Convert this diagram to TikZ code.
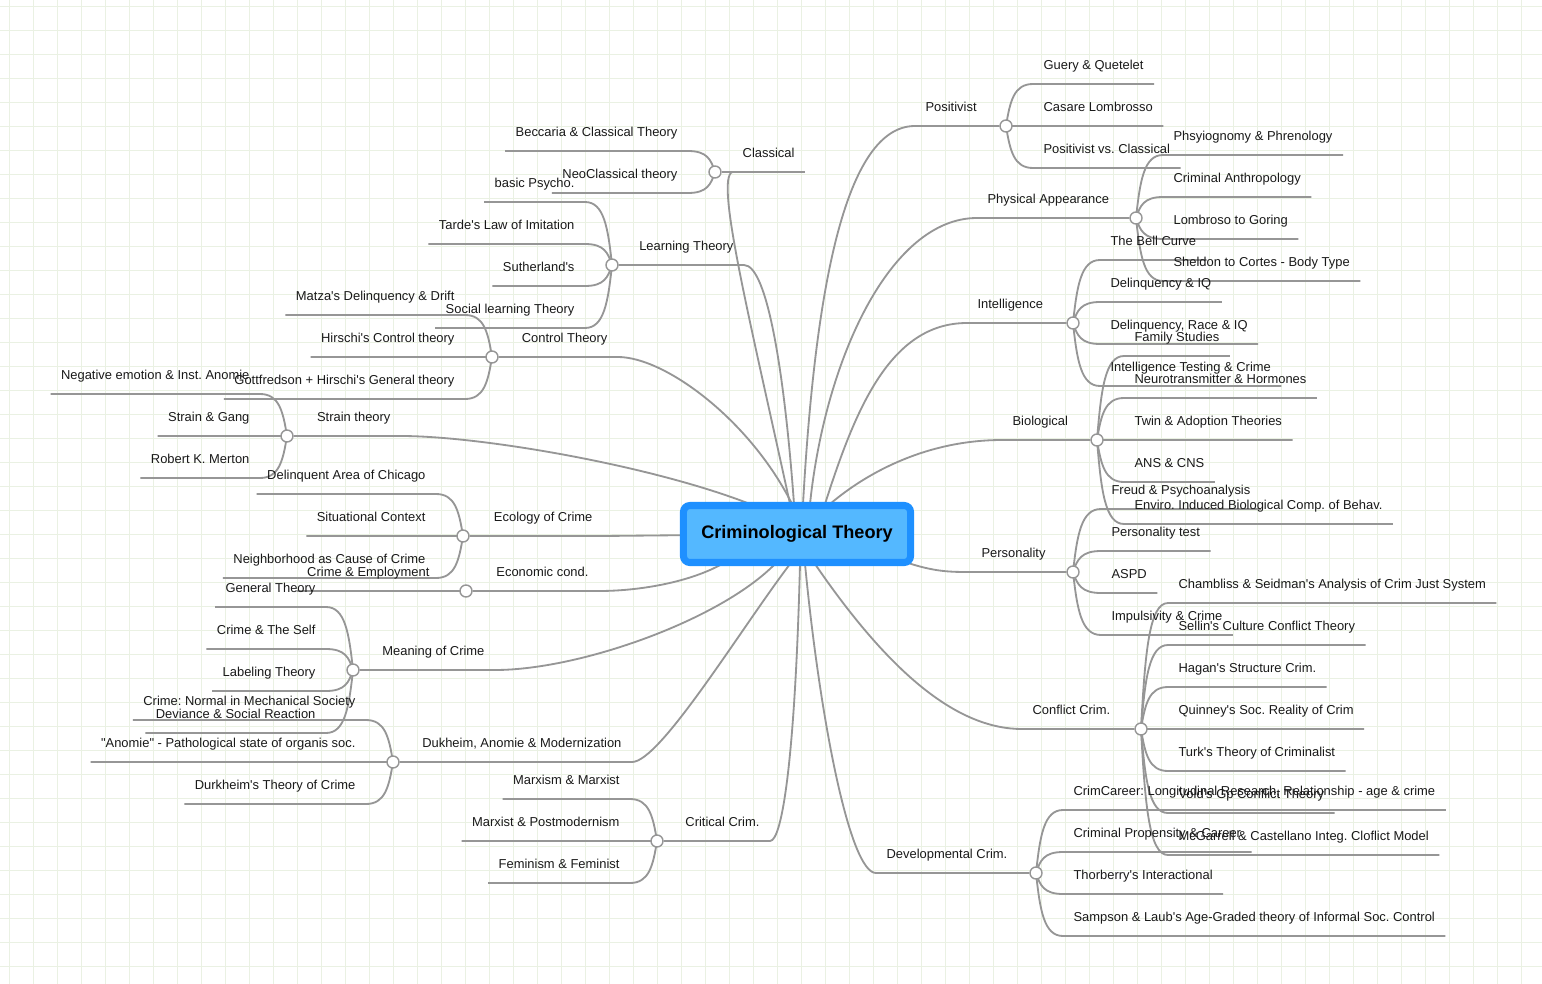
\documentclass[tikz,border=0pt]{standalone}
\usepackage{fontspec}
\setmainfont{Liberation Sans}[Ligatures=TeXOff]
\frenchspacing
\usetikzlibrary{calc,backgrounds}
\definecolor{gridgreen}{RGB}{234,241,227}
\definecolor{limbgray}{RGB}{150,150,150}
\definecolor{rootblue}{RGB}{30,144,255}
\definecolor{rootfill}{RGB}{84,184,255}
\definecolor{inkgray}{RGB}{25,25,25}
\tikzset{
  gridline/.style={draw=gridgreen, line width=0.7pt},
  limb/.style={draw=limbgray, line width=1.3pt},
  forkto/.style={to path={.. controls ($(\tikztostart)!.6!($(\tikztostart|-\tikztotarget)!.25!(\tikztotarget)$)$) and ($(\tikztostart|-\tikztotarget)!.3!(\tikztotarget)$) .. (\tikztotarget)}},
  hub/.style={circle, draw=limbgray, fill=white, line width=1pt, minimum size=0.3cm, inner sep=0pt},
  leafR/.style={anchor=south west, inner xsep=7.3pt, inner ysep=9.9pt, text depth=0pt, text=inkgray, font=\fontsize{9.2}{11}\selectfont},
  leafL/.style={leafR, anchor=south east},
  topicR/.style={leafR},
  topicL/.style={leafL},
  root/.style={rounded corners=4.6pt, fill=rootfill, draw=rootblue, line width=5pt, minimum width=5.675cm, minimum height=1.425cm, text=black, font=\bfseries\fontsize{12.9}{15}\selectfont},
}
\begin{document}
\begin{tikzpicture}[x=0.025cm, y=-0.025cm]
\useasboundingbox (0,0) rectangle (1542,984);
\node[root] (root) at (797,534) {Criminological Theory};

% right side
\node[topicR] (posT) at (915,126) {Positivist};
\node[hub] (pos) at (1006,126) {};
\node[leafR] (gq) at (1033,84) {Guery \& Quetelet};
\node[leafR] (cl) at (1033,126) {Casare Lombrosso};
\node[leafR] (pvc) at (1033,168) {Positivist vs. Classical};

\node[topicR] (phyT) at (977,218) {Physical Appearance};
\node[hub] (phy) at (1136,218) {};
\node[leafR] (phr) at (1163,155) {Phsyiognomy \& Phrenology};
\node[leafR] (cra) at (1163,197) {Criminal Anthropology};
\node[leafR] (lg) at (1163,239) {Lombroso to Goring};
\node[leafR] (sct) at (1163,281) {Sheldon to Cortes - Body Type};

\node[topicR] (itlT) at (967,323) {Intelligence};
\node[hub] (itl) at (1073,323) {};
\node[leafR] (bell) at (1100,260) {The Bell Curve};
\node[leafR] (diq) at (1100,302) {Delinquency \& IQ};
\node[leafR] (driq) at (1100,344) {Delinquency, Race \& IQ};
\node[leafR] (itc) at (1100,386) {Intelligence Testing \& Crime};

\node[topicR] (bioT) at (1002,440) {Biological};
\node[hub] (bio) at (1097,440) {};
\node[leafR] (fam) at (1124,356) {Family Studies};
\node[leafR] (neu) at (1124,398) {Neurotransmitter \& Hormones};
\node[leafR] (twin) at (1124,440) {Twin \& Adoption Theories};
\node[leafR] (ans) at (1124,482) {ANS \& CNS};
\node[leafR] (env) at (1124,524) {Enviro. Induced Biological Comp. of Behav.};

\node[topicR] (perT) at (971,572) {Personality};
\node[hub] (per) at (1073,572) {};
\node[leafR] (fre) at (1101,509) {Freud \& Psychoanalysis};
\node[leafR] (pt) at (1101,551) {Personality test};
\node[leafR] (aspd) at (1101,593) {ASPD};
\node[leafR] (imp) at (1101,635) {Impulsivity \& Crime};

\node[topicR] (cflT) at (1022,729) {Conflict Crim.};
\node[hub] (cfl) at (1141,729) {};
\node[leafR] (chs) at (1168,603) {Chambliss \& Seidman's Analysis of Crim Just System};
\node[leafR] (sel) at (1168,645) {Sellin's Culture Conflict Theory};
\node[leafR] (hag) at (1168,687) {Hagan's Structure Crim.};
\node[leafR] (qui) at (1168,729) {Quinney's Soc. Reality of Crim};
\node[leafR] (turk) at (1168,771) {Turk's Theory of Criminalist};
\node[leafR] (vold) at (1168,813) {Vold's Gp Conflict Theory};
\node[leafR] (mcg) at (1168,855) {McGarrell \& Castellano Integ. Cloflict Model};

\node[topicR] (devT) at (876,873) {Developmental Crim.};
\node[hub] (dev) at (1036,873) {};
\node[leafR] (ccl) at (1063,810) {CrimCareer: Longitudinal Research, Relationship - age \& crime};
\node[leafR] (cpc) at (1063,852) {Criminal Propensity \& Career};
\node[leafR] (thi) at (1063,894) {Thorberry's Interactional};
\node[leafR] (slg) at (1063,936) {Sampson \& Laub's Age-Graded theory of Informal Soc. Control};

% left side
\node[topicL] (clsT) at (805,172) {Classical};
\node[hub] (cls) at (715,172) {};
\node[leafL] (bec) at (688,151) {Beccaria \& Classical Theory};
\node[leafL] (neo) at (688,193) {NeoClassical theory};

\node[topicL] (lrnT) at (744,265) {Learning Theory};
\node[hub] (lrn) at (612,265) {};
\node[leafL] (bps) at (585,202) {basic Psycho.};
\node[leafL] (trd) at (585,244) {Tarde's Law of Imitation};
\node[leafL] (suth) at (585,286) {Sutherland's};
\node[leafL] (slt) at (585,328) {Social learning Theory};

\node[topicL] (ctlT) at (618,357) {Control Theory};
\node[hub] (ctl) at (492,357) {};
\node[leafL] (mat) at (465,315) {Matza's Delinquency \& Drift};
\node[leafL] (hcon) at (465,357) {Hirschi's Control theory};
\node[leafL] (gott) at (465,399) {Gottfredson + Hirschi's General theory};

\node[topicL] (strT) at (401,436) {Strain theory};
\node[hub] (str) at (287,436) {};
\node[leafL] (neg) at (260,394) {Negative emotion \& Inst. Anomie};
\node[leafL] (sg) at (260,436) {Strain \& Gang};
\node[leafL] (rkm) at (260,478) {Robert K. Merton};

\node[topicL] (ecoT) at (603,536) {Ecology of Crime};
\node[hub] (eco) at (463,536) {};
\node[leafL] (dac) at (436,494) {Delinquent Area of Chicago};
\node[leafL] (sit) at (436,536) {Situational Context};
\node[leafL] (nbh) at (436,578) {Neighborhood as Cause of Crime};

\node[topicL] (ecnT) at (599,591) {Economic cond.};
\node[hub] (ecn) at (466,591) {};
\node[leafL] (cemp) at (440,591) {Crime \& Employment};

\node[topicL] (mngT) at (495,670) {Meaning of Crime};
\node[hub] (mng) at (353,670) {};
\node[leafL] (gen) at (326,607) {General Theory};
\node[leafL] (cts) at (326,649) {Crime \& The Self};
\node[leafL] (lab) at (326,691) {Labeling Theory};
\node[leafL] (dsr) at (326,733) {Deviance \& Social Reaction};

\node[topicL] (dukT) at (632,762) {Dukheim, Anomie \& Modernization};
\node[hub] (duk) at (393,762) {};
\node[leafL] (cnm) at (366,720) {Crime: Normal in Mechanical Society};
\node[leafL] (ano) at (366,762) {"Anomie" - Pathological state of organis soc.};
\node[leafL] (dtc) at (366,804) {Durkheim's Theory of Crime};

\node[topicL] (crtT) at (770,841) {Critical Crim.};
\node[hub] (crt) at (657,841) {};
\node[leafL] (mxm) at (630,799) {Marxism \& Marxist};
\node[leafL] (mxp) at (630,841) {Marxist \& Postmodernism};
\node[leafL] (fem) at (630,883) {Feminism \& Feminist};

\begin{scope}[on background layer]
  \fill[white] (0,0) rectangle (1542,984);
  \foreach \gx in {9,33,...,1533} \draw[gridline] (\gx,0) -- (\gx,984);
  \foreach \gy in {6,30,...,966} \draw[gridline] (0,\gy) -- (1542,\gy);

  % root to topics, right
  \draw[limb] ($(root.center)+(6,-30)$) .. controls (815,290) and (845,126) .. (posT.south west) -- (pos);
  \draw[limb] ($(root.center)+(13,-30)$) .. controls (825,360) and (890,218) .. (phyT.south west) -- (phy);
  \draw[limb] ($(root.center)+(28,-30)$) .. controls (855,410) and (890,323) .. (itlT.south west) -- (itl);
  \draw[limb] ($(root.center)+(33,-30)$) .. controls (870,470) and (930,440) .. (bioT.south west) -- (bio);
  \draw[limb] ($(root.center)+(108,28)$) .. controls (935,572) and (950,572) .. (perT.south west) -- (per);
  \draw[limb] ($(root.center)+(18,30)$) .. controls (893,678) and (960,729) .. (cflT.south west) -- (cfl);
  \draw[limb] ($(root.center)+(8,30)$) .. controls (820,720) and (850,873) .. (devT.south west) -- (dev);
  % root to topics, left
  \draw[limb] ($(root.center)+(-7,-30)$) .. controls (750,320) and (715,180) .. (clsT.south west);
  \draw[limb] (cls) -- (clsT.south east);
  \draw[limb] ($(root.center)+(-3,-30)$) .. controls (785,380) and (768,265) .. (lrnT.south east) -- (lrn);
  \draw[limb] ($(root.center)+(-5,-30)$) .. controls (750,420) and (665,357) .. (ctlT.south east) -- (ctl);
  \draw[limb] ($(root.center)+(-47,-30)$) .. controls (650,465) and (480,436) .. (strT.south east) -- (str);
  \draw[limb] (root) -- (ecoT.south east) -- (eco);
  \draw[limb] ($(root.center)+(-75,30)$) .. controls (690,582) and (640,591) .. (ecnT.south east) -- (ecn);
  \draw[limb] ($(root.center)+(-22,30)$) .. controls (720,620) and (580,670) .. (mngT.south east) -- (mng);
  \draw[limb] ($(root.center)+(-7,30)$) .. controls (740,630) and (660,762) .. (dukT.south east) -- (duk);
  \draw[limb] ($(root.center)+(3,30)$) .. controls (795,760) and (782,841) .. (crtT.south east) -- (crt);

  % topics to leaves, right
  \draw[limb] (pos.center) to[forkto] (gq.south west) -- (gq.south east);
  \draw[limb] (pos.center) to[forkto] (cl.south west) -- (cl.south east);
  \draw[limb] (pos.center) to[forkto] (pvc.south west) -- (pvc.south east);
  \draw[limb] (phy.center) to[forkto] (phr.south west) -- (phr.south east);
  \draw[limb] (phy.center) to[forkto] (cra.south west) -- (cra.south east);
  \draw[limb] (phy.center) to[forkto] (lg.south west) -- (lg.south east);
  \draw[limb] (phy.center) to[forkto] (sct.south west) -- (sct.south east);
  \draw[limb] (itl.center) to[forkto] (bell.south west) -- (bell.south east);
  \draw[limb] (itl.center) to[forkto] (diq.south west) -- (diq.south east);
  \draw[limb] (itl.center) to[forkto] (driq.south west) -- (driq.south east);
  \draw[limb] (itl.center) to[forkto] (itc.south west) -- (itc.south east);
  \draw[limb] (bio.center) to[forkto] (fam.south west) -- (fam.south east);
  \draw[limb] (bio.center) to[forkto] (neu.south west) -- (neu.south east);
  \draw[limb] (bio.center) to[forkto] (twin.south west) -- (twin.south east);
  \draw[limb] (bio.center) to[forkto] (ans.south west) -- (ans.south east);
  \draw[limb] (bio.center) to[forkto] (env.south west) -- (env.south east);
  \draw[limb] (per.center) to[forkto] (fre.south west) -- (fre.south east);
  \draw[limb] (per.center) to[forkto] (pt.south west) -- (pt.south east);
  \draw[limb] (per.center) to[forkto] (aspd.south west) -- (aspd.south east);
  \draw[limb] (per.center) to[forkto] (imp.south west) -- (imp.south east);
  \draw[limb] (cfl.center) to[forkto] (chs.south west) -- (chs.south east);
  \draw[limb] (cfl.center) to[forkto] (sel.south west) -- (sel.south east);
  \draw[limb] (cfl.center) to[forkto] (hag.south west) -- (hag.south east);
  \draw[limb] (cfl.center) to[forkto] (qui.south west) -- (qui.south east);
  \draw[limb] (cfl.center) to[forkto] (turk.south west) -- (turk.south east);
  \draw[limb] (cfl.center) to[forkto] (vold.south west) -- (vold.south east);
  \draw[limb] (cfl.center) to[forkto] (mcg.south west) -- (mcg.south east);
  \draw[limb] (dev.center) to[forkto] (ccl.south west) -- (ccl.south east);
  \draw[limb] (dev.center) to[forkto] (cpc.south west) -- (cpc.south east);
  \draw[limb] (dev.center) to[forkto] (thi.south west) -- (thi.south east);
  \draw[limb] (dev.center) to[forkto] (slg.south west) -- (slg.south east);
  % topics to leaves, left
  \draw[limb] (cls.center) to[forkto] (bec.south east) -- (bec.south west);
  \draw[limb] (cls.center) to[forkto] (neo.south east) -- (neo.south west);
  \draw[limb] (lrn.center) to[forkto] (bps.south east) -- (bps.south west);
  \draw[limb] (lrn.center) to[forkto] (trd.south east) -- (trd.south west);
  \draw[limb] (lrn.center) to[forkto] (suth.south east) -- (suth.south west);
  \draw[limb] (lrn.center) to[forkto] (slt.south east) -- (slt.south west);
  \draw[limb] (ctl.center) to[forkto] (mat.south east) -- (mat.south west);
  \draw[limb] (ctl.center) to[forkto] (hcon.south east) -- (hcon.south west);
  \draw[limb] (ctl.center) to[forkto] (gott.south east) -- (gott.south west);
  \draw[limb] (str.center) to[forkto] (neg.south east) -- (neg.south west);
  \draw[limb] (str.center) to[forkto] (sg.south east) -- (sg.south west);
  \draw[limb] (str.center) to[forkto] (rkm.south east) -- (rkm.south west);
  \draw[limb] (eco.center) to[forkto] (dac.south east) -- (dac.south west);
  \draw[limb] (eco.center) to[forkto] (sit.south east) -- (sit.south west);
  \draw[limb] (eco.center) to[forkto] (nbh.south east) -- (nbh.south west);
  \draw[limb] (ecn.center) to[forkto] (cemp.south east) -- (cemp.south west);
  \draw[limb] (mng.center) to[forkto] (gen.south east) -- (gen.south west);
  \draw[limb] (mng.center) to[forkto] (cts.south east) -- (cts.south west);
  \draw[limb] (mng.center) to[forkto] (lab.south east) -- (lab.south west);
  \draw[limb] (mng.center) to[forkto] (dsr.south east) -- (dsr.south west);
  \draw[limb] (duk.center) to[forkto] (cnm.south east) -- (cnm.south west);
  \draw[limb] (duk.center) to[forkto] (ano.south east) -- (ano.south west);
  \draw[limb] (duk.center) to[forkto] (dtc.south east) -- (dtc.south west);
  \draw[limb] (crt.center) to[forkto] (mxm.south east) -- (mxm.south west);
  \draw[limb] (crt.center) to[forkto] (mxp.south east) -- (mxp.south west);
  \draw[limb] (crt.center) to[forkto] (fem.south east) -- (fem.south west);
\end{scope}
\end{tikzpicture}
\end{document}
